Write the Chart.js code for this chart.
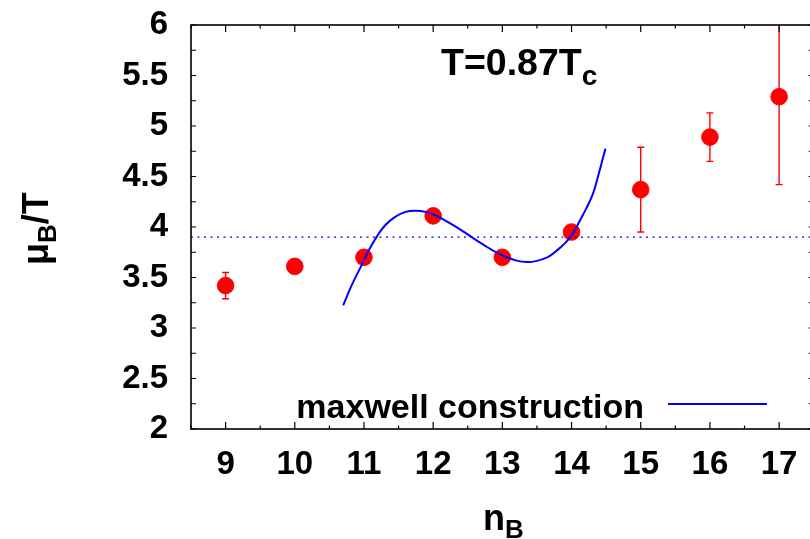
<!DOCTYPE html>
<html>
<head>
<meta charset="utf-8">
<script src="https://cdn.jsdelivr.net/npm/chart.js@4.4.1/dist/chart.umd.min.js"></script>
<style>
  html, body { margin: 0; padding: 0; background: #fff; overflow: hidden; }
  #wrap { width: 823px; height: 539px; }
</style>
</head>
<body>
<div id="wrap"><canvas id="muChart"></canvas></div>
<script>
// lattice points: baryon number vs chemical potential
const nB = [9, 10, 11, 12, 13, 14, 15, 16, 17];
const muB = [3.42, 3.61, 3.70, 4.11, 3.70, 3.95, 4.37, 4.89, 5.29];
const muErr = [0.13, 0, 0, 0, 0, 0, 0.42, 0.24, 0.87];

// fitted curve used for the maxwell construction
const curveN = [10.70, 10.82, 10.95, 11.07, 11.19, 11.31, 11.45, 11.60, 11.74, 11.89,
  12.05, 12.21, 12.45, 12.69, 13.03, 13.36, 13.65, 13.82, 13.92, 14.02,
  14.11, 14.21, 14.31, 14.40, 14.49];
const curveMu = [3.225, 3.42, 3.60, 3.77, 3.91, 4.02, 4.10, 4.15, 4.162, 4.15,
  4.11, 4.05, 3.95, 3.84, 3.71, 3.653, 3.70, 3.786, 3.85, 3.935,
  4.05, 4.18, 4.33, 4.545, 4.776];

const maxwellLevel = 3.9;
const xRange = [8.5, 17.5];
const yRange = [2, 6];

const FONT = 'Liberation Sans';
Chart.defaults.font.family = FONT;

// red error bars, clipped to the plot frame
const errorBars = {
  id: 'errorBars',
  beforeDatasetsDraw(chart) {
    const { ctx, chartArea: a, scales: { x, y } } = chart;
    ctx.save();
    ctx.beginPath();
    ctx.rect(a.left, a.top, a.right - a.left, a.bottom - a.top);
    ctx.clip();
    ctx.strokeStyle = '#ff0000';
    ctx.lineWidth = 1.4;
    ctx.beginPath();
    nB.forEach((n, i) => {
      if (!muErr[i]) return;
      const px = x.getPixelForValue(n);
      const top = y.getPixelForValue(muB[i] + muErr[i]);
      const bot = y.getPixelForValue(muB[i] - muErr[i]);
      ctx.moveTo(px, top); ctx.lineTo(px, bot);
      ctx.moveTo(px - 3.5, top); ctx.lineTo(px + 3.5, top);
      ctx.moveTo(px - 3.5, bot); ctx.lineTo(px + 3.5, bot);
    });
    ctx.stroke();
    ctx.restore();
  }
};

// closed frame with inward ticks on all four sides
const frameTicks = {
  id: 'frameTicks',
  afterDraw(chart) {
    const { ctx, chartArea: a, scales: { x, y } } = chart;
    ctx.save();
    ctx.strokeStyle = '#000';
    ctx.lineWidth = 1.6;
    ctx.strokeRect(a.left, a.top, a.right - a.left, a.bottom - a.top);
    ctx.lineWidth = 1.2;
    ctx.beginPath();
    x.ticks.forEach(t => {
      const px = x.getPixelForValue(t.value);
      const len = Number.isInteger(t.value) ? 7 : 3.5;
      ctx.moveTo(px, a.bottom); ctx.lineTo(px, a.bottom - len);
      ctx.moveTo(px, a.top); ctx.lineTo(px, a.top + len);
    });
    y.ticks.forEach(t => {
      const py = y.getPixelForValue(t.value);
      ctx.moveTo(a.left, py); ctx.lineTo(a.left + 5, py);
      ctx.moveTo(a.right, py); ctx.lineTo(a.right - 5, py);
    });
    ctx.stroke();
    ctx.restore();
  }
};

// text with a subscript, returns total width
function subText(ctx, main, sub, x, y, size, subSize, drop) {
  ctx.font = `bold ${size}px "${FONT}"`;
  ctx.fillText(main, x, y);
  const w = ctx.measureText(main).width;
  ctx.font = `bold ${subSize}px "${FONT}"`;
  ctx.fillText(sub, x + w, y + drop);
  return w + ctx.measureText(sub).width;
}

const labels = {
  id: 'labels',
  afterDraw(chart) {
    const { ctx } = chart;
    ctx.save();
    ctx.fillStyle = '#000';
    ctx.textBaseline = 'alphabetic';
    ctx.textAlign = 'left';

    subText(ctx, 'T=0.87T', 'c', 441, 75, 37.5, 28, 10);
    subText(ctx, 'n', 'B', 483, 530, 36, 26, 8);

    // y title, rotated
    ctx.save();
    ctx.translate(48, 265);
    ctx.rotate(-Math.PI / 2);
    ctx.font = `bold 36px "${FONT}"`;
    ctx.fillText('\u03bc', 0, 0);
    let w = ctx.measureText('\u03bc').width;
    ctx.font = `bold 26px "${FONT}"`;
    ctx.fillText('B', w, 8);
    w += ctx.measureText('B').width;
    ctx.font = `bold 36px "${FONT}"`;
    ctx.fillText('/T', w, 0);
    ctx.restore();

    // legend entry for the curve
    const ds = chart.data.datasets[1];
    ctx.font = `bold 34px "${FONT}"`;
    ctx.textAlign = 'right';
    ctx.fillText(ds.label, 644, 418);
    ctx.strokeStyle = ds.borderColor;
    ctx.lineWidth = ds.borderWidth;
    ctx.beginPath();
    ctx.moveTo(668, 404); ctx.lineTo(767, 404);
    ctx.stroke();
    ctx.restore();
  }
};

new Chart(document.getElementById('muChart'), {
  type: 'scatter',
  data: {
    datasets: [
      {
        label: 'lattice',
        data: nB.map((n, i) => ({ x: n, y: muB[i] })),
        backgroundColor: '#ff0000',
        borderColor: '#ff0000',
        pointRadius: 8.3,
        pointHoverRadius: 8.3,
        showLine: false,
        order: 3
      },
      {
        label: 'maxwell construction',
        data: curveN.map((n, i) => ({ x: n, y: curveMu[i] })),
        borderColor: '#0000ff',
        borderWidth: 2,
        pointRadius: 0,
        showLine: true,
        tension: 0.4,
        order: 1
      },
      {
        label: 'level',
        data: [{ x: xRange[0], y: maxwellLevel }, { x: xRange[1], y: maxwellLevel }],
        borderColor: '#0000ff',
        borderWidth: 1.2,
        borderDash: [2, 4.5],
        pointRadius: 0,
        showLine: true,
        order: 2
      }
    ]
  },
  options: {
    responsive: true,
    maintainAspectRatio: false,
    animation: false,
    events: [],
    layout: { padding: { top: 25, right: 3, left: 0, bottom: 0 } },
    plugins: { legend: { display: false }, tooltip: { enabled: false } },
    scales: {
      x: {
        type: 'linear',
        min: xRange[0],
        max: xRange[1],
        afterFit: s => { s.height = 110; s.paddingLeft = 0; s.paddingRight = 0; },
        grid: { drawOnChartArea: false, drawTicks: false },
        border: { display: false },
        ticks: {
          stepSize: 0.5,
          autoSkip: false,
          maxRotation: 0,
          padding: 16,
          color: '#000',
          font: { size: 33, weight: 'bold' },
          callback: v => Number.isInteger(v) ? String(v) : ''
        }
      },
      y: {
        min: yRange[0],
        max: yRange[1],
        afterFit: s => { s.width = 191; s.paddingTop = 0; s.paddingBottom = 0; },
        grid: { drawOnChartArea: false, drawTicks: false },
        border: { display: false },
        ticks: {
          stepSize: 0.25,
          autoSkip: false,
          padding: 23,
          color: '#000',
          font: { size: 33, weight: 'bold' },
          callback: v => (v * 2) % 1 === 0 ? String(v) : ''
        }
      }
    }
  },
  plugins: [errorBars, frameTicks, labels]
});
</script>
</body>
</html>
